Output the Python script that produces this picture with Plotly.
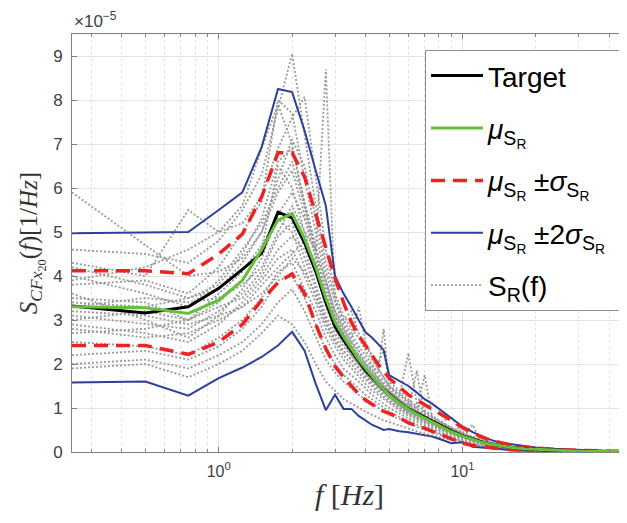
import plotly.graph_objects as go

# frequency grid [Hz]; all PSD values below are in units of 1e-5 [1/Hz]
freq = [0.25, 0.5, 0.75, 1.0, 1.25, 1.5, 1.75, 2.0, 2.25, 2.5, 2.75,
        3.0, 3.25, 3.5, 3.75, 4.0, 4.25, 4.5, 4.75, 5.0,
        5.5, 6.0, 6.5, 7.0, 7.5, 8.0, 9.0, 10, 11, 12, 13, 14, 16, 18, 20, 23, 26, 30, 35, 40, 50]

target = [3.32, 3.16, 3.30, 3.72, 4.15, 4.52, 5.45, 5.32, 4.75, 4.10, 3.40,
          2.85, 2.55, 2.30, 2.05, 1.85, 1.70, 1.55, 1.42, 1.32,
          1.13, 0.98, 0.88, 0.80, 0.70, 0.62, 0.48, 0.37, 0.29, 0.23, 0.19, 0.15, 0.10, 0.075, 0.06, 0.045, 0.034, 0.025, 0.018, 0.012, 0.007]
mu = [3.30, 3.28, 3.15, 3.45, 3.90, 4.60, 5.27, 5.42, 4.85, 4.20, 3.50,
      2.95, 2.62, 2.35, 2.10, 1.90, 1.72, 1.56, 1.42, 1.30,
      1.12, 0.97, 0.86, 0.77, 0.68, 0.60, 0.46, 0.36, 0.28, 0.22, 0.18, 0.15, 0.10, 0.075, 0.06, 0.045, 0.035, 0.025, 0.018, 0.012, 0.007]
mu_plus_sigma = [4.12, 4.12, 4.05, 4.50, 4.95, 5.80, 6.80, 6.80, 6.25, 5.40, 4.60,
                 3.95, 3.40, 2.95, 2.65, 2.40, 2.20, 2.00, 1.82, 1.68,
                 1.48, 1.30, 1.18, 1.08, 0.98, 0.90, 0.72, 0.55, 0.43, 0.34, 0.27, 0.22, 0.15, 0.11, 0.09, 0.065, 0.05, 0.035, 0.025, 0.017, 0.01]
mu_minus_sigma = [2.42, 2.42, 2.22, 2.50, 2.90, 3.45, 3.85, 4.05, 3.60, 2.90, 2.35,
                  1.95, 1.70, 1.50, 1.32, 1.18, 1.08, 1.00, 0.92, 0.88,
                  0.78, 0.66, 0.60, 0.54, 0.47, 0.42, 0.30, 0.20, 0.15, 0.12, 0.10, 0.08, 0.05, 0.04, 0.03, 0.022, 0.018, 0.012, 0.008, 0.005, 0.003]
mu_plus_2sigma = [4.97, 4.98, 5.00, 5.50, 5.90, 6.93, 8.25, 8.18, 7.30, 6.40, 5.60,
                  4.00, 3.60, 3.30, 3.00, 2.72, 2.60, 2.45, 2.32, 1.75,
                  1.62, 1.50, 1.35, 1.20, 1.10, 0.98, 0.78, 0.58, 0.45, 0.36, 0.28, 0.22, 0.17, 0.13, 0.10, 0.075, 0.06, 0.042, 0.03, 0.02, 0.012]
mu_minus_2sigma = [1.58, 1.60, 1.28, 1.68, 1.92, 2.16, 2.42, 2.73, 2.30, 1.55, 0.95,
                   1.30, 0.98, 0.98, 0.82, 0.72, 0.62, 0.56, 0.50, 0.52,
                   0.47, 0.45, 0.42, 0.38, 0.35, 0.30, 0.20, 0.22, 0.12, 0.10, 0.08, 0.06, 0.04, 0.03, 0.02, 0.015, 0.01, 0.008, 0.005, 0.003, 0.002]

# individual realisations S_R(f)
s01 = [5.9, 4.7, 4.0, 4.1, 4.4, 5.0, 5.9, 6.4, 5.4, 4.5, 3.7, 3.1, 2.8, 2.5, 2.3, 2.0, 1.9, 1.7, 1.5, 1.4,
       1.2, 1.05, 0.92, 0.82, 0.72, 0.64, 0.5, 0.38, 0.3, 0.24, 0.19, 0.16, 0.11, 0.08, 0.062, 0.047, 0.036, 0.026, 0.018, 0.012, 0.007]
s02 = [4.6, 4.5, 4.3, 4.8, 5.5, 6.3, 7.8, 9.05, 7.2, 5.6, 4.3, 3.5, 3.0, 2.7, 2.4, 2.2, 2.0, 1.8, 1.6, 1.45,
       1.3, 1.1, 0.98, 0.85, 0.76, 0.66, 0.52, 0.4, 0.31, 0.25, 0.2, 0.17, 0.11, 0.08, 0.065, 0.05, 0.038, 0.027, 0.02, 0.013, 0.008]
s03 = [4.3, 4.0, 5.5, 5.0, 5.2, 5.8, 6.9, 7.6, 8.07, 6.2, 4.6, 3.6, 3.1, 2.8, 2.6, 2.3, 2.1, 1.9, 1.7, 1.5,
       1.35, 1.15, 1.0, 1.75, 0.8, 0.7, 0.55, 0.42, 0.33, 0.26, 0.21, 0.17, 0.12, 0.085, 0.068, 0.05, 0.04, 0.028, 0.02, 0.013, 0.008]
s04 = [4.0, 3.6, 3.3, 3.9, 4.6, 5.2, 6.0, 6.6, 5.6, 4.6, 8.7, 3.4, 3.0, 3.2, 2.7, 2.4, 2.2, 2.0, 2.3, 1.6,
       1.4, 1.2, 1.05, 0.95, 0.83, 0.72, 0.56, 0.45, 0.35, 0.27, 0.22, 0.18, 0.12, 0.09, 0.07, 0.052, 0.04, 0.029, 0.021, 0.014, 0.009]
s05 = [3.8, 3.9, 3.6, 4.2, 5.0, 5.7, 8.0, 7.7, 6.2, 5.0, 3.9, 3.2, 2.9, 2.6, 3.3, 2.5, 2.2, 1.9, 1.7, 1.5,
       1.25, 2.25, 1.1, 0.92, 0.8, 0.7, 0.53, 0.4, 0.31, 0.24, 0.2, 0.16, 0.11, 0.08, 0.064, 0.048, 0.037, 0.026, 0.019, 0.012, 0.008]
s06 = [3.5, 3.4, 3.0, 3.4, 3.9, 4.6, 6.5, 6.0, 5.0, 4.1, 3.3, 2.8, 2.5, 2.2, 2.0, 1.85, 1.7, 1.5, 1.4, 1.25,
       1.05, 0.9, 0.8, 0.72, 0.63, 0.56, 0.43, 0.34, 0.26, 0.21, 0.17, 0.14, 0.095, 0.07, 0.056, 0.042, 0.032, 0.023, 0.017, 0.011, 0.007]
s07 = [3.3, 3.5, 3.4, 3.5, 3.8, 4.2, 5.0, 5.6, 5.0, 4.6, 3.9, 3.2, 2.8, 2.5, 2.2, 2.0, 1.8, 1.65, 1.5, 1.35,
       1.15, 1.0, 0.88, 0.78, 0.7, 0.61, 0.47, 0.37, 0.29, 0.23, 0.18, 0.15, 0.1, 0.076, 0.06, 0.045, 0.035, 0.025, 0.018, 0.012, 0.007]
s08 = [3.1, 2.9, 2.8, 3.2, 3.6, 4.1, 4.9, 5.2, 4.4, 3.7, 3.0, 2.6, 2.3, 2.1, 1.9, 1.7, 1.55, 1.4, 1.3, 1.2,
       1.0, 0.88, 0.78, 0.7, 0.6, 0.54, 0.42, 0.32, 0.25, 0.2, 0.16, 0.13, 0.09, 0.068, 0.054, 0.04, 0.031, 0.022, 0.016, 0.011, 0.006]
s09 = [3.0, 3.2, 3.0, 3.3, 3.5, 4.0, 4.6, 4.9, 4.6, 3.8, 3.1, 2.7, 2.4, 2.2, 2.0, 1.8, 1.6, 1.5, 1.35, 1.25,
       1.1, 0.95, 0.84, 0.75, 0.66, 0.58, 0.45, 0.35, 0.27, 0.21, 0.17, 0.14, 0.095, 0.072, 0.057, 0.043, 0.033, 0.024, 0.017, 0.011, 0.007]
s10 = [2.9, 2.7, 2.5, 2.9, 3.4, 3.9, 4.4, 4.6, 4.0, 3.4, 2.8, 2.4, 2.1, 1.9, 1.7, 1.55, 1.4, 1.3, 1.2, 1.1,
       0.95, 0.82, 0.72, 0.64, 0.56, 0.5, 0.38, 0.3, 0.23, 0.18, 0.15, 0.12, 0.08, 0.062, 0.05, 0.037, 0.029, 0.021, 0.015, 0.01, 0.006]
s11 = [2.7, 2.8, 3.0, 3.6, 4.1, 4.7, 5.3, 5.0, 4.2, 3.5, 2.9, 2.5, 2.2, 2.0, 1.8, 1.65, 1.5, 1.35, 1.25, 1.15,
       1.0, 0.86, 0.76, 0.68, 0.6, 0.53, 0.41, 0.33, 0.62, 0.2, 0.16, 0.13, 0.09, 0.066, 0.052, 0.04, 0.03, 0.022, 0.016, 0.011, 0.006]
s12 = [2.5, 2.4, 2.2, 2.6, 3.0, 3.5, 4.1, 4.3, 3.7, 3.2, 2.6, 2.2, 1.9, 1.75, 1.6, 1.45, 1.3, 1.2, 1.1, 1.0,
       0.88, 0.76, 0.68, 0.6, 0.52, 0.46, 0.35, 0.27, 0.21, 0.17, 0.14, 0.11, 0.075, 0.056, 0.045, 0.034, 0.026, 0.019, 0.014, 0.009, 0.005]
s13 = [2.2, 2.3, 2.1, 2.4, 2.8, 3.3, 3.9, 4.0, 3.5, 2.9, 2.3, 2.0, 1.75, 1.6, 1.45, 1.3, 1.2, 1.1, 1.0, 0.92,
       0.8, 0.7, 0.62, 0.55, 0.48, 0.42, 0.32, 0.25, 0.19, 0.15, 0.12, 0.1, 0.07, 0.052, 0.042, 0.031, 0.024, 0.017, 0.012, 0.008, 0.005]
s14 = [2.0, 2.1, 1.9, 2.2, 2.5, 2.9, 3.4, 3.7, 3.2, 2.6, 2.1, 1.8, 1.6, 1.45, 1.3, 1.2, 1.1, 1.0, 0.92, 0.85,
       0.75, 0.65, 0.57, 0.5, 0.45, 0.4, 0.3, 0.23, 0.18, 0.14, 0.11, 0.09, 0.064, 0.048, 0.038, 0.028, 0.022, 0.016, 0.011, 0.007, 0.004]
s15 = [1.9, 2.0, 1.7, 2.0, 2.3, 2.7, 3.1, 2.9, 2.5, 2.0, 1.6, 1.4, 1.2, 1.1, 1.0, 0.92, 0.85, 0.78, 0.72, 0.68,
       0.6, 0.52, 0.47, 0.42, 0.38, 0.34, 0.26, 0.2, 0.15, 0.12, 0.1, 0.08, 0.055, 0.042, 0.033, 0.025, 0.019, 0.014, 0.01, 0.006, 0.004]
s16 = [3.6, 3.0, 2.6, 3.1, 3.7, 4.4, 5.4, 5.9, 5.3, 4.4, 3.5, 3.0, 2.6, 2.3, 2.1, 1.9, 1.75, 1.6, 1.45, 1.3,
       1.15, 1.0, 0.88, 0.8, 0.7, 0.62, 0.48, 0.37, 0.29, 0.23, 0.19, 0.15, 0.1, 0.077, 0.061, 0.046, 0.036, 0.026, 0.018, 0.012, 0.007]
s17 = [4.2, 3.8, 3.5, 3.7, 4.3, 5.0, 6.2, 7.1, 6.5, 5.3, 4.1, 3.4, 2.9, 2.6, 2.3, 2.1, 1.95, 1.8, 2.8, 1.5,
       1.3, 1.12, 0.98, 0.87, 0.77, 0.68, 0.52, 0.41, 0.32, 0.25, 0.2, 0.17, 0.11, 0.083, 0.066, 0.05, 0.038, 0.027, 0.02, 0.013, 0.008]
s18 = [3.4, 3.3, 3.5, 3.8, 4.5, 5.3, 6.6, 6.9, 5.7, 4.7, 3.8, 3.1, 2.7, 2.4, 2.2, 2.0, 1.85, 1.7, 1.55, 1.4,
       1.2, 1.05, 0.93, 0.83, 0.73, 0.65, 0.8, 0.39, 0.3, 0.24, 0.19, 0.16, 0.11, 0.08, 0.064, 0.048, 0.037, 0.026, 0.019, 0.012, 0.007]
s19 = [2.8, 2.6, 2.7, 3.0, 3.3, 3.8, 4.2, 4.5, 4.8, 4.3, 3.4, 2.8, 2.5, 2.2, 2.0, 1.8, 1.65, 1.5, 1.4, 1.3,
       1.1, 0.96, 1.85, 0.76, 0.67, 0.59, 0.46, 0.36, 0.28, 0.22, 0.18, 0.15, 0.1, 0.075, 0.06, 0.045, 0.035, 0.025, 0.018, 0.012, 0.007]
s20 = [3.2, 3.1, 2.9, 3.1, 3.3, 3.6, 4.0, 4.4, 4.1, 3.6, 3.0, 2.5, 2.3, 2.1, 1.9, 1.75, 1.6, 1.45, 1.35, 1.25,
       1.05, 0.92, 0.82, 0.73, 0.64, 0.57, 0.44, 0.35, 0.27, 0.21, 0.17, 0.14, 0.095, 0.072, 0.057, 0.043, 0.033, 0.024, 0.017, 0.011, 0.006]
s21 = [3.9, 4.2, 4.6, 5.0, 5.6, 6.9, 7.9, 7.0, 5.6, 4.5, 3.6, 3.0, 2.7, 2.4, 2.15, 1.95, 1.8, 1.65, 1.5, 1.35,
       1.18, 1.02, 0.9, 0.81, 0.71, 0.63, 0.49, 0.38, 0.3, 0.24, 0.19, 0.16, 0.105, 0.078, 0.062, 0.047, 0.036, 0.026, 0.019, 0.012, 0.007]
samples = [s01, s02, s03, s04, s05, s06, s07, s08, s09, s10, s11,
           s12, s13, s14, s15, s16, s17, s18, s19, s20, s21]

GRAY = '#9a9a9a'
RED = '#ee2222'
BLUE = '#2d3f99'
GREEN = '#66c03c'

mu_txt = '<i>μ</i><sub>S<sub>R</sub></sub>'
sig_txt = '<i>σ</i><sub>S<sub>R</sub></sub>'

fig = go.Figure()

# gray dotted realisations (drawn first, underneath)
for i, s in enumerate(samples):
    fig.add_trace(go.Scatter(x=freq, y=s, mode='lines', name='S<sub>R</sub>(f)',
                             line=dict(color=GRAY, width=1.8, dash='2px,2px'),
                             legendgroup='sr', showlegend=(i == 0), legendrank=5))

# +/- 2 sigma
fig.add_trace(go.Scatter(x=freq, y=mu_plus_2sigma, mode='lines', name=mu_txt + ' ±2' + sig_txt + '\u00a0',
                         line=dict(color=BLUE, width=2), legendgroup='s2', legendrank=4))
fig.add_trace(go.Scatter(x=freq, y=mu_minus_2sigma, mode='lines', showlegend=False,
                         line=dict(color=BLUE, width=2), legendgroup='s2'))

# +/- sigma
fig.add_trace(go.Scatter(x=freq, y=mu_plus_sigma, mode='lines', name=mu_txt + ' ±' + sig_txt,
                         line=dict(color=RED, width=3.5, dash='14px,8px'), legendgroup='s1', legendrank=3))
fig.add_trace(go.Scatter(x=freq, y=mu_minus_sigma, mode='lines', showlegend=False,
                         line=dict(color=RED, width=3.5, dash='14px,8px'), legendgroup='s1'))

fig.add_trace(go.Scatter(x=freq, y=target, mode='lines', name='Target',
                         line=dict(color='black', width=3), legendrank=1))
fig.add_trace(go.Scatter(x=freq, y=mu, mode='lines', name=mu_txt,
                         line=dict(color=GREEN, width=3), legendrank=2))

# the page body has an 8px margin, so the figure is 8px smaller than the window
fig.update_layout(
    width=619, height=515,
    margin=dict(l=64, r=0, t=26, b=71),
    paper_bgcolor='white', plot_bgcolor='white',
    font=dict(family='Liberation Sans, Arial, sans-serif', color='#333333'),
    legend=dict(x=0.636, y=0.962, xanchor='left', yanchor='top',
                bgcolor='white', bordercolor='#8c8c8c', borderwidth=1,
                font=dict(size=28, color='black'), tracegroupgap=13, itemwidth=52),
    xaxis=dict(
        type='log', range=[-0.60206, 1.675], automargin=False,
        tickvals=[1, 10], ticktext=['10<sup>0</sup>', '10<sup>1</sup>'],
        ticks='inside', ticklen=5, tickcolor='#808080',
        tickfont=dict(size=16, color='#404040'), ticklabelstandoff=5,
        showline=True, linecolor='#808080', linewidth=1, mirror='ticks',
        showgrid=True, gridcolor='#e3e3e3', gridwidth=1,
        minor=dict(tickvals=[0.3, 0.4, 0.5, 0.6, 0.7, 0.8, 0.9, 2, 3, 4, 5, 6, 7, 8, 9, 20, 30, 40],
                   ticks='inside', ticklen=3, tickcolor='#808080',
                   showgrid=True, gridcolor='#e3e3e3', griddash='dot'),
        zeroline=False,
        title=dict(text='<i>f</i> [<i>Hz</i>]', standoff=4,
                   font=dict(family='Liberation Serif, serif', size=30, color='#333333')),
    ),
    yaxis=dict(
        range=[0, 9.5], automargin=False,
        tickvals=[0, 1, 2, 3, 4, 5, 6, 7, 8, 9],
        ticktext=['0', '1', '2', '3', '4', '5', '6', '7', '8', '9'],
        ticks='inside', ticklen=5, tickcolor='#808080',
        tickfont=dict(size=17, color='#404040'), ticklabelstandoff=5,
        showline=True, linecolor='#808080', linewidth=1, mirror='ticks',
        showgrid=True, gridcolor='#e3e3e3', gridwidth=1, zeroline=False,
        title=dict(text='<i>S</i><sub><i>CFx</i><sub>20</sub></sub>(<i>f</i>)[1/<i>Hz</i>]', standoff=8,
                   font=dict(family='Liberation Serif, serif', size=25, color='#333333')),
    ),
    annotations=[dict(text='×10<sup>−5</sup>', xref='paper', yref='paper', x=0.0, y=1.0,
                      xanchor='left', yanchor='bottom', showarrow=False, yshift=1,
                      font=dict(size=17, color='#404040'))],
)

fig.write_html("out.html")
